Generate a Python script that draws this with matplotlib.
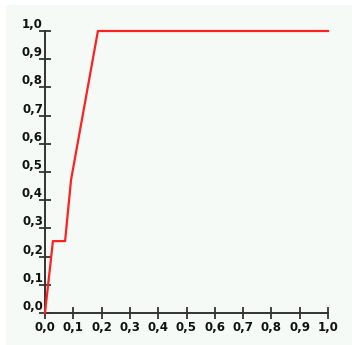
import matplotlib
matplotlib.use("Agg")
import matplotlib.pyplot as plt
from matplotlib.patches import Rectangle
from matplotlib.transforms import ScaledTranslation

# curve points
x_vals = [0.0, 0.028, 0.071, 0.092, 0.187, 1.0]
y_vals = [0.0, 0.255, 0.255, 0.472, 1.0, 1.0]

ticks = [0.0, 0.1, 0.2, 0.3, 0.4, 0.5, 0.6, 0.7, 0.8, 0.9, 1.0]
tick_labels = ["0,0", "0,1", "0,2", "0,3", "0,4", "0,5", "0,6", "0,7", "0,8", "0,9", "1,0"]

fig = plt.figure(figsize=(3.52, 3.45), dpi=100)
fig.patch.set_facecolor("white")
# light panel behind everything
panel = Rectangle((6 / 352, 0), 1, 1 - 5 / 345, transform=fig.transFigure,
                  facecolor="#f5faf7", edgecolor="none", zorder=-10)
fig.add_artist(panel)

ax = fig.add_axes([45 / 352, 32 / 345, 283 / 352, 282 / 345])
ax.set_facecolor("none")
ax.set_zorder(5)

ax.plot(x_vals, y_vals, color="#ff2020", linewidth=1.6, clip_on=False, zorder=3)

ax.set_xlim(0, 1)
ax.set_ylim(0, 1)
ax.set_xticks(ticks)
ax.set_yticks(ticks)
ax.set_xticklabels(tick_labels)
ax.set_yticklabels(tick_labels)

for side in ["top", "right"]:
    ax.spines[side].set_visible(False)
for side in ["left", "bottom"]:
    ax.spines[side].set_color("#333333")
    ax.spines[side].set_linewidth(1.4)

ax.tick_params(direction="inout", length=9, width=1.2, color="#222222",
               labelsize=8.5, labelcolor="#111111")
ax.tick_params(axis="x", pad=1)
ax.tick_params(axis="y", pad=-3)

# y labels sit a little above their ticks
shift = ScaledTranslation(0, 8 / 100, fig.dpi_scale_trans)
for lab in ax.get_yticklabels():
    lab.set_transform(lab.get_transform() + shift)
    lab.set_fontweight("bold")
for lab in ax.get_xticklabels():
    lab.set_fontweight("bold")

fig.savefig("out.png", dpi=100)
